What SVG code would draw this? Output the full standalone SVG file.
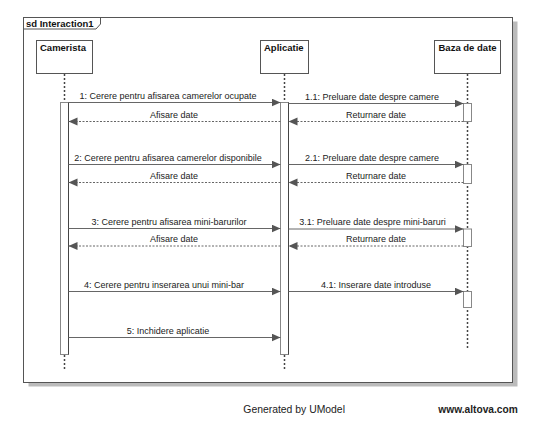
<svg xmlns="http://www.w3.org/2000/svg" width="553" height="447" viewBox="0 0 553 447">
<defs>
<style>
.t{font-family:"Liberation Sans",Arial,sans-serif;font-size:9px;fill:#222}
.b{font-family:"Liberation Sans",Arial,sans-serif;font-size:9.5px;font-weight:bold;fill:#111}
.m{text-anchor:middle}
.head{fill:#fff;stroke:#555;stroke-width:1}
.life{stroke:#444;stroke-width:1.5;stroke-dasharray:2,2;fill:none}
.bar{fill:#fff;stroke:#888;stroke-width:1}
.barR{stroke:#444;stroke-width:1}
.call{stroke:#666;stroke-width:1;fill:none;marker-end:url(#ah)}
.ret{stroke:#666;stroke-width:1;stroke-dasharray:2,1.5;fill:none;marker-end:url(#ah)}
</style>
<marker id="ah" markerUnits="userSpaceOnUse" markerWidth="10" markerHeight="9" refX="9" refY="4" orient="auto">
<path d="M0,0 L9,4 L0,8 z" fill="#555"/>
</marker>
</defs>
<rect width="553" height="447" fill="#fff"/>
<g id="frame">
<rect x="28.5" y="21.5" width="489" height="365" fill="#bbb"/>
<rect x="23.5" y="17.5" width="489" height="365" fill="#fff" stroke="#555"/>
<path d="M23.5,29 H96 L100.5,24 V17.5" fill="none" stroke="#555"/>
<text class="b" x="26" y="26.5">sd Interaction1</text>
</g>
<g id="camerista">
<rect class="head" x="36.5" y="40.5" width="56" height="33"/>
<text class="b" x="40" y="50.5">Camerista</text>
<line class="life" x1="64.5" y1="74" x2="64.5" y2="102"/>
<rect class="bar" x="60.5" y="102.5" width="8" height="252"/>
<line class="barR" x1="68.5" y1="102.5" x2="68.5" y2="354.5"/>
<line class="life" x1="64.5" y1="355" x2="64.5" y2="370"/>
</g>
<g id="aplicatie">
<rect class="head" x="260.5" y="40.5" width="48" height="33"/>
<text class="b" x="264" y="50.5">Aplicatie</text>
<line class="life" x1="284.5" y1="74" x2="284.5" y2="102"/>
<rect class="bar" x="280.5" y="102.5" width="8" height="252"/>
<line class="barR" x1="288.5" y1="102.5" x2="288.5" y2="354.5"/>
<line class="life" x1="284.5" y1="355" x2="284.5" y2="370"/>
</g>
<g id="baza">
<rect class="head" x="434.5" y="40.5" width="66" height="33"/>
<text class="b" x="438.5" y="50.5">Baza de date</text>
<line class="life" x1="467.5" y1="74" x2="467.5" y2="349"/>
<rect class="bar" x="463.5" y="103.5" width="8" height="18"/>
<rect class="bar" x="463.5" y="164.5" width="8" height="19"/>
<rect class="bar" x="463.5" y="229" width="8" height="17.5"/>
<rect class="bar" x="463.5" y="291.5" width="8" height="16"/>
</g>
<g id="connectors">
<line class="call" x1="68.5" y1="102.5" x2="280.5" y2="102.5"/>
<text class="t m" x="168" y="98.5">1: Cerere pentru afisarea camerelor ocupate</text>
<line class="call" x1="288.5" y1="103.5" x2="463.5" y2="103.5"/>
<text class="t m" x="372" y="99.5">1.1: Preluare date despre camere</text>
<line class="ret" x1="463.5" y1="121.5" x2="288.5" y2="121.5"/>
<text class="t m" x="376" y="117.5">Returnare date</text>
<line class="ret" x1="280.5" y1="121.5" x2="68.5" y2="121.5"/>
<text class="t m" x="174" y="117.5">Afisare date</text>

<line class="call" x1="68.5" y1="164.5" x2="280.5" y2="164.5"/>
<text class="t m" x="168" y="160.5">2: Cerere pentru afisarea camerelor disponibile</text>
<line class="call" x1="288.5" y1="164.5" x2="463.5" y2="164.5"/>
<text class="t m" x="372" y="160.5">2.1: Preluare date despre camere</text>
<line class="ret" x1="463.5" y1="182.5" x2="288.5" y2="182.5"/>
<text class="t m" x="376" y="178.5">Returnare date</text>
<line class="ret" x1="280.5" y1="182.5" x2="68.5" y2="182.5"/>
<text class="t m" x="174" y="178.5">Afisare date</text>

<line class="call" x1="68.5" y1="228.5" x2="280.5" y2="228.5"/>
<text class="t m" x="169" y="224.5">3: Cerere pentru afisarea mini-barurilor</text>
<line class="call" x1="288.5" y1="229" x2="463.5" y2="229"/>
<text class="t m" x="372.5" y="225">3.1: Preluare date despre mini-baruri</text>
<line class="ret" x1="463.5" y1="246" x2="288.5" y2="246"/>
<text class="t m" x="376" y="242">Returnare date</text>
<line class="ret" x1="280.5" y1="246" x2="68.5" y2="246"/>
<text class="t m" x="174" y="242">Afisare date</text>

<line class="call" x1="68.5" y1="291.5" x2="280.5" y2="291.5"/>
<text class="t m" x="164" y="287.5">4: Cerere pentru inserarea unui mini-bar</text>
<line class="call" x1="288.5" y1="291.5" x2="463.5" y2="291.5"/>
<text class="t m" x="376" y="287.5">4.1: Inserare date introduse</text>

<line class="call" x1="68.5" y1="337.5" x2="280.5" y2="337.5"/>
<text class="t m" x="168" y="333.5">5: Inchidere aplicatie</text>
</g>
<g id="footer">
<text x="243.3" y="412.7" style="font-family:'Liberation Sans',Arial,sans-serif;font-size:10.4px;fill:#222">Generated by UModel</text>
<text x="438.3" y="412.7" style="font-family:'Liberation Sans',Arial,sans-serif;font-size:10.2px;font-weight:bold;fill:#222">www.altova.com</text>
</g>
</svg>
